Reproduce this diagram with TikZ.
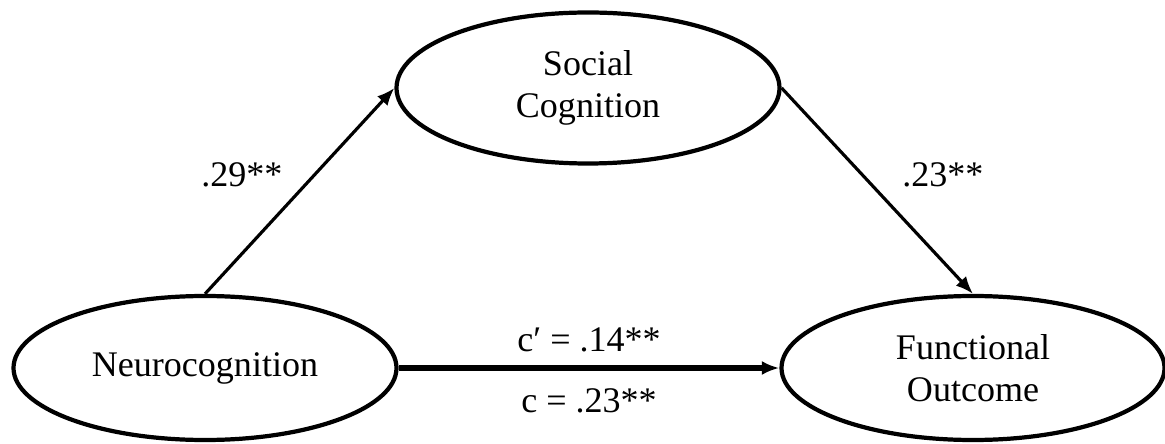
\documentclass[tikz,border=0pt]{standalone}
\usepackage{fontspec}
\setmainfont{Liberation Serif}
\usetikzlibrary{arrows.meta,shapes.geometric,positioning}

\tikzset{
  construct/.style={draw,ellipse,line width=2.4pt,minimum width=7.66cm,
    minimum height=2.88cm,inner sep=0pt,align=center},
  path/.style={->,line width=1.8pt},
  direct/.style={->,line width=3pt}
}

\begin{document}
\begin{tikzpicture}[>={Latex[length=10pt,width=8pt]},
    font=\fontsize{20.5}{24}\selectfont]
        \useasboundingbox (0,0) rectangle (23.3,8.86);
        \node[construct,minimum height=3.02cm] (social) at (11.76,7.1) {Social\\Cognition};
        \node[construct] (neuro) at (4.1,1.5) {Neurocognition};
        \node[construct] (func) at (19.46,1.5) {Functional\\Outcome};
        \draw[path] (neuro.north) -- (social.west)
          node[pos=0.58,left=0.5cm] (pa) {.29**};
        \draw[path] (social.east) -- (func.north)
          node[pos=0.42,right=0.66cm] (pb) {.23**};
        \draw[direct] (neuro.east) -- (func.west)
          node[midway,above=0.14cm] (pc1) {c′ = .14**}
          node[midway,below=0.24cm] (pc) {c = .23**};
      \end{tikzpicture}
\end{document}
